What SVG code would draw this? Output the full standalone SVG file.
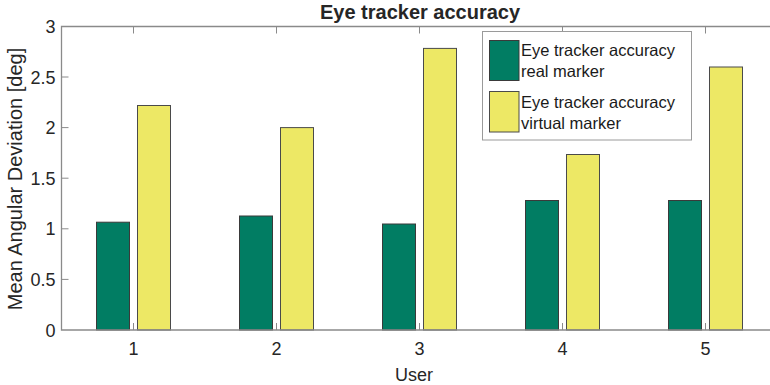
<svg xmlns="http://www.w3.org/2000/svg" width="770" height="385" viewBox="0 0 770 385">
  <style>
    text { font-family: "Liberation Sans", Arial, sans-serif; fill: #262626; }
    .tick { font-size: 18px; }
    .ylab { text-anchor: end; }
    .xlab { text-anchor: middle; }
    .axis { stroke: #8a8a8a; stroke-width: 1.3; fill: none; }
    .tk { stroke: #8a8a8a; stroke-width: 1; }
    .real { fill: #017d63; stroke: #3a3a3a; stroke-width: 1; }
    .virt { fill: #ede865; stroke: #4a4a4a; stroke-width: 1; }
    .leg { font-size: 16.5px; fill: #1a1a1a; }
  </style>
  <rect width="770" height="385" fill="#ffffff"/>

  <!-- tick marks (drawn below the bars) -->
  <g id="ticks">
    <path class="tk" d="M133.5,330v-7M276.5,330v-7M419.5,330v-7M562.5,330v-7M705.5,330v-7
                        M133.5,26.5v7M276.5,26.5v7M419.5,26.5v7M562.5,26.5v7M705.5,26.5v7
                        M61.5,77h7M61.5,127.6h7M61.5,178.2h7M61.5,228.8h7M61.5,279.4h7"/>
  </g>

  <!-- bars: real marker (green) and virtual marker (yellow) per user -->
  <g id="bars">
    <rect class="real" x="96.5" y="222.2" width="33" height="107.8"/>
    <rect class="virt" x="137.5" y="105.5" width="33" height="224.5"/>
    <rect class="real" x="239.5" y="216" width="33" height="114"/>
    <rect class="virt" x="280.5" y="127.6" width="33" height="202.4"/>
    <rect class="real" x="382.5" y="224" width="33" height="106"/>
    <rect class="virt" x="423.5" y="48.4" width="33" height="281.6"/>
    <rect class="real" x="525.5" y="200.5" width="33" height="129.5"/>
    <rect class="virt" x="566.5" y="154.5" width="33" height="175.5"/>
    <rect class="real" x="668.5" y="200.5" width="33" height="129.5"/>
    <rect class="virt" x="709.5" y="67" width="33" height="263"/>
  </g>

  <!-- axes box (right edge falls outside the canvas) -->
  <g id="axes">
    <path class="axis" d="M770,26.5H61.5V330H770"/>
  </g>

  <!-- y tick labels -->
  <g id="yticks" class="tick ylab">
    <text x="55.5" y="336.5">0</text>
    <text x="55.5" y="285.9">0.5</text>
    <text x="55.5" y="235.3">1</text>
    <text x="55.5" y="184.7">1.5</text>
    <text x="55.5" y="134.1">2</text>
    <text x="55.5" y="83.5">2.5</text>
    <text x="55.5" y="33">3</text>
  </g>

  <!-- x tick labels -->
  <g id="xticks" class="tick xlab">
    <text x="133.5" y="355">1</text>
    <text x="276.5" y="355">2</text>
    <text x="419.5" y="355">3</text>
    <text x="562.5" y="355">4</text>
    <text x="705.5" y="355">5</text>
  </g>

  <!-- axis labels and title -->
  <text id="xlabel" x="414" y="381" font-size="18" text-anchor="middle">User</text>
  <text id="ylabel" transform="translate(22,179) rotate(-90)" font-size="20" text-anchor="middle">Mean Angular Deviation [deg]</text>
  <text id="title" x="420" y="18.5" font-size="20" font-weight="bold" text-anchor="middle" fill="#000">Eye tracker accuracy</text>

  <!-- legend -->
  <g id="legend">
    <rect x="482.5" y="31.5" width="209" height="108.5" fill="#ffffff" stroke="#9a9a9a" stroke-width="1"/>
    <rect class="real" x="489.5" y="40.5" width="29.5" height="40"/>
    <rect class="virt" x="489.5" y="91.5" width="29.5" height="40.5"/>
    <text class="leg" x="521" y="56">Eye tracker accuracy</text>
    <text class="leg" x="521" y="77">real marker</text>
    <text class="leg" x="521" y="107.5">Eye tracker accuracy</text>
    <text class="leg" x="521" y="129">virtual marker</text>
  </g>
</svg>
